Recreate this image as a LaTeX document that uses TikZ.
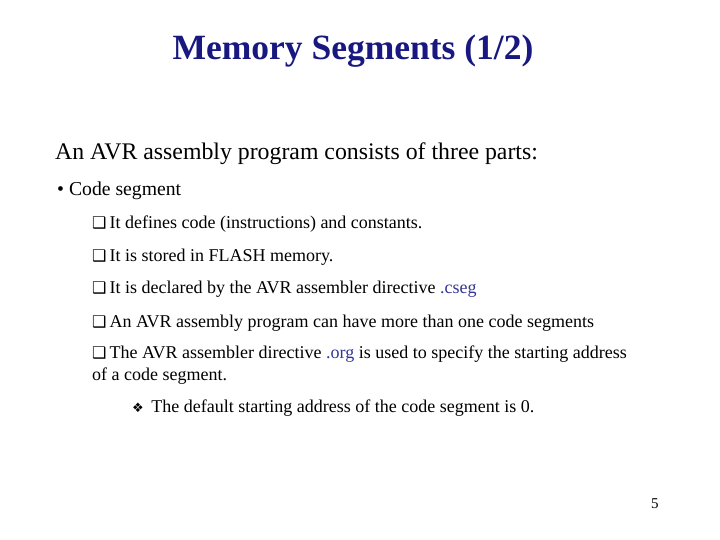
\documentclass[tikz,border=0pt]{standalone}
\usepackage{fontspec}
\setmainfont{Liberation Serif}
\newfontfamily\symfont{DejaVu Sans}
\usetikzlibrary{positioning}
\definecolor{titleblue}{RGB}{24,24,128}
\definecolor{dirblue}{RGB}{51,51,153}
\tikzset{line/.style={anchor=base west,inner sep=0pt,font=\fontsize{18}{21}\selectfont}}
\newcommand{\boxbul}{{\symfont\fontsize{16}{18}\selectfont ❑}\,}
\begin{document}
\begin{tikzpicture}[x=1pt,y=-1pt]
\useasboundingbox (0,0) rectangle (720,540);
\node[anchor=base,inner sep=0pt,font=\fontsize{35.5}{40}\selectfont\bfseries,text=titleblue] (title) at (353,60) {Memory Segments (1/2)};
\node[line,font=\fontsize{23.8}{28}\selectfont] (intro) at (55,160) {An AVR assembly program consists of three parts:};
\node[line,font=\fontsize{19.7}{23}\selectfont] (code) at (57,196) {• Code segment};
\node[line] (def) at (92,229) {\boxbul It defines code (instructions) and constants.};
\node[line] (flash) at (92,261) {\boxbul It is stored in FLASH memory.};
\node[line] (cseg) at (92,293) {\boxbul It is declared by the AVR assembler directive \textcolor{dirblue}{.cseg}};
\node[line] (more) at (92,327) {\boxbul An AVR assembly program can have more than one code segments};
\node[line] (org) at (92,358) {\boxbul The AVR assembler directive \textcolor{dirblue}{.org} is used to specify the starting address};
\node[line] (org2) at (92,380) {of a code segment.};
\node[line] (zero) at (132,412) {{\symfont\fontsize{13}{15}\selectfont ❖}\, The default starting address of the code segment is 0.};
\node[line,font=\fontsize{15}{18}\selectfont] (page) at (651,508) {5};
\end{tikzpicture}
\end{document}
